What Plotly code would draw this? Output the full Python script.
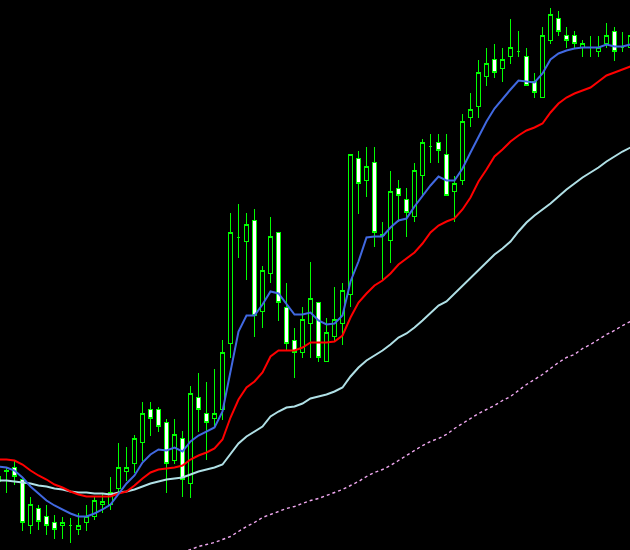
import plotly.graph_objects as go

# bar index (k = -1 .. 78)
bars = list(range(-1, 79))

# OHLC values (price points)
opens = [68, 78, 82, 70, 24, 41, 33, 27, 24, 24, 20, 27, 33, 45, 45, 61, 78, 86, 107, 140,
         140, 127, 89, 111, 66, 152, 136, 131, 140, 206, 312, 308, 329, 238, 276, 317, 242, 209, 197, 226,
         247, 188, 213, 226, 255, 391, 369, 387, 314, 309, 361, 350, 333, 374, 403, 407, 395, 358, 369, 432,
         443, 473, 490, 481, 493, 498, 493, 468, 452, 509, 531, 514, 514, 502, 502, 498, 506, 518, 502, 502]
highs = [78, 82, 90, 73, 53, 45, 45, 35, 33, 32, 37, 45, 53, 57, 73, 107, 103, 115, 148, 148,
         143, 131, 131, 119, 164, 177, 168, 181, 210, 337, 346, 337, 341, 284, 333, 317, 267, 222, 243, 288,
         247, 232, 263, 267, 395, 399, 403, 403, 328, 379, 370, 362, 387, 411, 416, 416, 416, 374, 436, 457,
         490, 502, 506, 502, 531, 519, 502, 477, 523, 542, 539, 523, 519, 510, 514, 514, 527, 523, 518, 523]
lows = [60, 57, 65, 19, 16, 20, 15, 11, 11, 7, 15, 19, 30, 37, 40, 57, 69, 77, 89, 114,
        118, 57, 86, 53, 52, 118, 90, 123, 130, 192, 292, 270, 213, 222, 267, 229, 200, 172, 192, 192,
        188, 188, 209, 205, 243, 336, 353, 303, 270, 287, 328, 313, 328, 355, 387, 387, 354, 328, 365, 423,
        432, 464, 472, 468, 486, 493, 464, 452, 452, 506, 514, 502, 502, 493, 493, 493, 502, 489, 498, 495]
closes = [73, 79, 73, 27, 45, 28, 24, 20, 27, 24, 24, 33, 49, 48, 57, 82, 82, 111, 136, 131,
          123, 86, 115, 70, 156, 140, 127, 136, 197, 317, 312, 325, 234, 279, 313, 247, 206, 197, 230, 251,
          192, 217, 230, 259, 395, 366, 383, 317, 315, 358, 354, 337, 379, 407, 403, 399, 354, 366, 428, 440,
          477, 486, 477, 490, 502, 498, 464, 457, 514, 535, 518, 509, 506, 506, 502, 502, 514, 498, 502, 514]

# moving averages
ma_fast = [83, 82, 79, 72, 63, 56, 49, 44, 40, 36, 33, 33, 36, 40, 45, 56, 66, 74, 87, 95, 100,
           99, 102, 98, 108, 114, 118, 122, 138, 180, 218, 234, 234, 245, 258, 256, 245, 235, 235, 237, 229,
           225, 226, 234, 268, 288, 312, 313, 313, 322, 329, 331, 343, 354, 364, 373, 369, 369, 381, 397, 413,
           428, 441, 451, 460, 469, 468, 467, 476, 490, 496, 499, 501, 502, 502, 502, 505, 503, 503, 505]
ma_mid = [90, 90, 89, 85, 79, 74, 70, 65, 62, 58, 55, 53, 53, 53, 53, 56, 58, 64, 71, 77, 80,
          81, 82, 84, 90, 94, 97, 101, 110, 132, 150, 162, 168, 177, 193, 199, 199, 199, 202, 207, 207,
          207, 208, 214, 232, 247, 256, 264, 269, 276, 285, 291, 297, 306, 317, 324, 328, 331, 340, 352, 368,
          380, 393, 400, 408, 414, 419, 422, 426, 437, 446, 452, 456, 459, 462, 468, 474, 477, 480, 483]
ma_slow = [69, 69, 68, 67, 66, 64, 63, 61, 60, 58, 57, 57, 56, 56, 55, 57, 58, 60, 63, 66, 68,
           70, 71, 72, 75, 78, 80, 82, 85, 96, 106, 113, 118, 123, 133, 138, 142, 143, 146, 151, 153,
           155, 158, 162, 173, 182, 189, 194, 199, 205, 212, 216, 222, 229, 237, 244, 248, 256, 264, 272, 279,
           287, 295, 301, 308, 318, 327, 334, 340, 346, 353, 360, 366, 372, 377, 382, 388, 393, 398, 402]
# long MA (visible from bar 22 onward)
ma_long_bars = list(range(22, 79))
ma_long = [-3, 0, 3, 5, 7, 10, 13, 18, 23, 27, 32, 35, 38, 41, 43, 46, 49, 51, 54, 57, 60, 64, 68, 73,
           77, 80, 84, 89, 94, 99, 104, 108, 111, 115, 121, 126, 131, 136, 140, 144, 149, 153, 159, 165,
           170, 175, 181, 187, 192, 195, 201, 205, 210, 215, 219, 224, 228]

fig = go.Figure()
fig.add_trace(go.Scatter(x=ma_long_bars, y=ma_long, mode="lines",
                         line=dict(color="#F0A8F0", width=1.4, dash="3px,3px"), hoverinfo="skip"))
fig.add_trace(go.Scatter(x=bars, y=ma_slow, mode="lines",
                         line=dict(color="#B0E0E6", width=2), hoverinfo="skip"))
fig.add_trace(go.Candlestick(
    x=bars, open=opens, high=highs, low=lows, close=closes,
    increasing=dict(line=dict(color="#00FF00", width=1), fillcolor="#000000"),
    decreasing=dict(line=dict(color="#00FF00", width=1), fillcolor="#FFFFFF"),
    whiskerwidth=0,
))
fig.add_trace(go.Scatter(x=bars, y=ma_mid, mode="lines",
                         line=dict(color="#FF0000", width=2), hoverinfo="skip"))
fig.add_trace(go.Scatter(x=bars, y=ma_fast, mode="lines",
                         line=dict(color="#4169E1", width=2), hoverinfo="skip"))

fig.update_layout(
    width=630, height=550,
    margin=dict(l=0, r=0, t=0, b=0),
    paper_bgcolor="#000000", plot_bgcolor="#000000",
    showlegend=False,
    boxgap=0.3,
    xaxis=dict(range=[-0.8125, 77.9375], visible=False, showgrid=False, zeroline=False,
               rangeslider=dict(visible=False)),
    yaxis=dict(range=[-0.5, 549.5], visible=False, showgrid=False, zeroline=False),
)
post = """
document.body.style.margin = '0';
document.body.style.padding = '0';
document.body.style.background = '#000000';
document.querySelectorAll('.boxlayer path').forEach(function(p){p.style.shapeRendering='crispEdges';});
"""
fig.write_html("out.html", post_script=post, config={"displayModeBar": False})
